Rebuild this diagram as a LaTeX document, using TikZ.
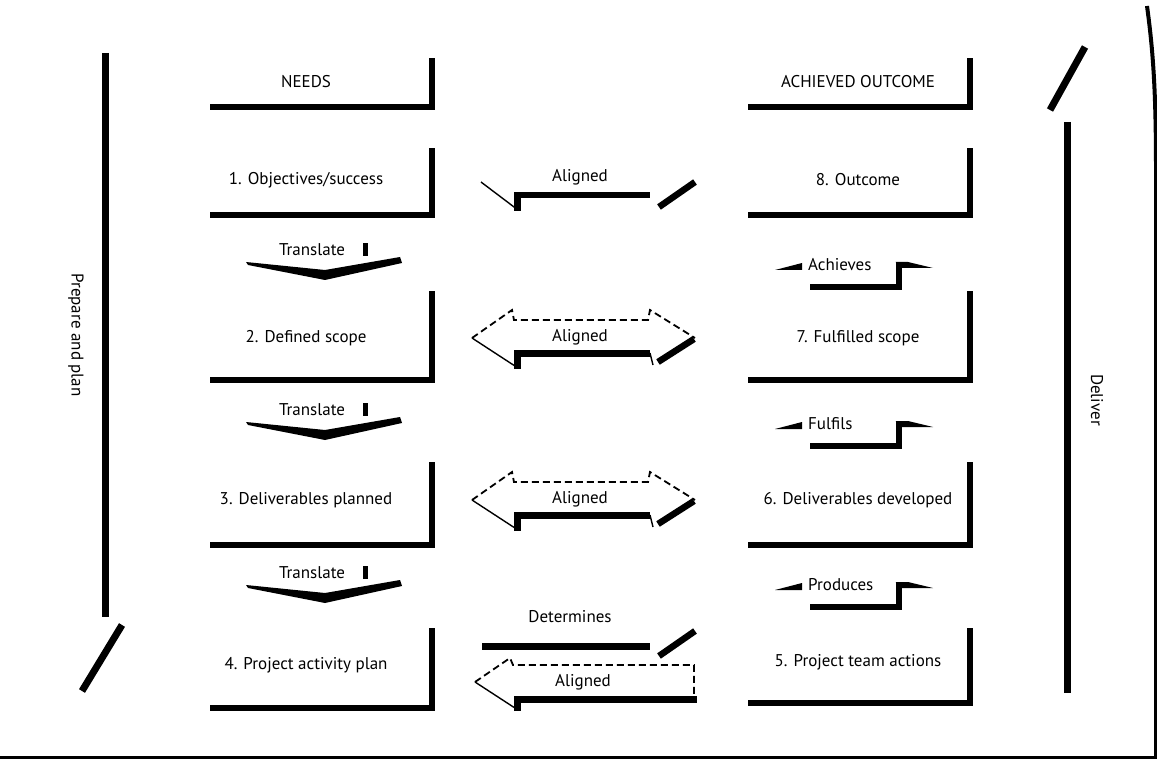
\documentclass[tikz,border=0pt]{standalone}
\usepackage{fontspec}
\setmainfont{PT Sans}
\begin{document}
\begin{tikzpicture}[x=1pt,y=-1pt,
  lbl/.style={font=\fontsize{17}{20}\selectfont, inner sep=0pt},
  boxline/.style={line width=5.5pt, line join=miter},
  bar/.style={line width=7pt},
  thinedge/.style={line width=1.4pt},
  dashedge/.style={line width=1.8pt, dash pattern=on 7pt off 4pt},
  shadow/.style={line width=6.5pt},
  blk/.style={fill=black, draw=none}]
\useasboundingbox (0,0) rectangle (1157,762);

% ---------- frame ----------
\draw[line width=3pt] (0,757) -- (1157,757);
\draw[line width=4pt] (1147,6) .. controls (1153,50) and (1156,90) .. (1156,170) -- (1156,757);

% ---------- side bars ----------
\draw[bar] (105,53) -- (105,617);
\draw[bar] (122,625) -- (82,691);
\node[lbl, rotate=-90] (prep) at (76,335) {Prepare and plan};
\draw[bar] (1067,122) -- (1067,693);
\draw[bar] (1085,47) -- (1050,110);
\node[lbl, rotate=-90] (deliver) at (1097,400) {Deliver};

% ---------- left boxes ----------
\node[lbl] (needs) at (306,82) {NEEDS};
\draw[boxline] (210,107) -- (432,107) -- (432,58);
\node[lbl] (b1) at (306,180) {1. Objectives/success};
\draw[boxline] (210,215) -- (432,215) -- (432,148);
\node[lbl] (b2) at (306,338) {2. Defined scope};
\draw[boxline] (210,380) -- (432,380) -- (432,291);
\node[lbl] (b3) at (306,500) {3. Deliverables planned};
\draw[boxline] (210,545) -- (432,545) -- (432,462);
\node[lbl] (b4) at (306,665) {4. Project activity plan};
\draw[boxline] (210,708) -- (432,708) -- (432,628);

% ---------- right boxes ----------
\node[lbl] (achieved) at (858,82) {ACHIEVED OUTCOME};
\draw[boxline] (748,107) -- (970,107) -- (970,58);
\node[lbl] (b8) at (858,180) {8. Outcome};
\draw[boxline] (748,215) -- (970,215) -- (970,148);
\node[lbl] (b7) at (858,338) {7. Fulfilled scope};
\draw[boxline] (748,380) -- (970,380) -- (970,291);
\node[lbl] (b6) at (858,500) {6. Deliverables developed};
\draw[boxline] (748,545) -- (970,545) -- (970,462);
\node[lbl] (b5) at (858,662) {5. Project team actions};
\draw[boxline] (748,703) -- (970,703) -- (970,628);

% ---------- Translate chevrons ----------
\foreach \ty/\nm in {250/t1, 410/t2, 573/t3} {
  \node[lbl] (\nm) at (312,\ty) {Translate};
  \fill[blk] (363,\ty-7) rectangle (368,\ty+6);
  \fill[blk] (246,\ty+12) -- (325,\ty+20) -- (400,\ty+7) -- (402,\ty+13)
        -- (325,\ty+30) -- (248,\ty+15) -- cycle;
}

% ---------- right step arrows ----------
\foreach \ty/\txt/\nm in {265/Achieves/r1, 424/Fulfils/r2, 585/Produces/r3} {
  \node[lbl, anchor=west] (\nm) at (808,\ty) {\txt};
  \fill[blk] (775,\ty+5) -- (802,\ty-2) -- (802,\ty+5) -- cycle;
  \draw[line width=6pt, line join=miter] (810,\ty+21.5) -- (898.5,\ty+21.5) -- (898.5,\ty-3);
  \fill[blk] (895.5,\ty-3) -- (908,\ty-3) -- (933,\ty+3) -- (901.5,\ty+3) -- cycle;
}

% ---------- row 1: Aligned (lower half only) ----------
\node[lbl] (a1) at (580,177) {Aligned};
\draw[thinedge] (481,182) -- (518,210);
\draw[shadow, line join=miter] (517.5,211) -- (517.5,195) -- (650,195);
\draw[shadow] (659,207) -- (695,182);

% ---------- rows 2,3: Aligned double arrows ----------
\foreach \cy/\nm in {338/a2, 500/a3} {
  \node[lbl] (\nm) at (580,\cy-1) {Aligned};
  \draw[dashedge] (472,\cy) -- (512,\cy-28) -- (514,\cy-18) -- (648,\cy-18)
        -- (650,\cy-28) -- (695,\cy);
  \draw[thinedge] (472,\cy) -- (518,\cy+30);
  \draw[shadow, line join=miter] (517.5,\cy+31) -- (517.5,\cy+15.5) -- (650,\cy+15.5);
  \draw[thinedge] (650,\cy+15) -- (653,\cy+27);
  \draw[shadow] (658,\cy+24) -- (694,\cy+1);
}

% ---------- row 4: Determines / Aligned ----------
\node[lbl] (det) at (570,617) {Determines};
\draw[shadow] (482,646.5) -- (650,646.5);
\draw[shadow] (659,656) -- (695,631);
\node[lbl] (a4) at (583,682) {Aligned};
\draw[dashedge] (475,682) -- (510,658) -- (513,665) -- (694,665) -- (694,697);
\draw[thinedge] (475,682) -- (518,710);
\draw[shadow, line join=miter] (517.5,711) -- (517.5,699.5) -- (697,699.5);
\end{tikzpicture}
\end{document}
